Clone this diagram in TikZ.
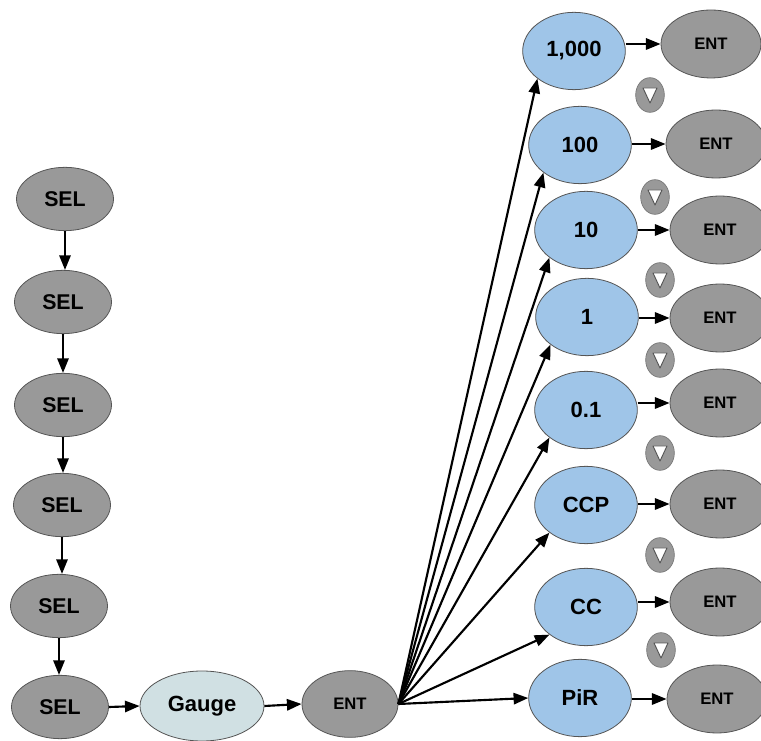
\documentclass[tikz,border=0pt]{standalone}
\usepackage{fontspec}
\setmainfont{Liberation Sans}
\usetikzlibrary{shapes.geometric,arrows.meta}
\definecolor{gfill}{HTML}{999999}
\definecolor{bfill}{HTML}{9FC5E8}
\definecolor{cfill}{HTML}{D0E0E3}
\definecolor{edgec}{HTML}{555555}
\begin{document}
\begin{tikzpicture}[x=0.75pt,y=-0.75pt,
  base/.style={ellipse,draw=edgec,line width=0.6pt,inner sep=0pt},
  sel/.style={base,fill=gfill,minimum width=72.75pt,minimum height=47.5pt,font=\bfseries\fontsize{16}{19}\selectfont},
  gauge/.style={base,fill=cfill,minimum width=93pt,minimum height=52.5pt,font=\bfseries\fontsize{16.5}{20}\selectfont},
  entb/.style={base,fill=gfill,minimum width=72pt,minimum height=50pt,font=\bfseries\fontsize{12.5}{15}\selectfont},
  entr/.style={base,fill=gfill,minimum width=75pt,minimum height=51pt,font=\bfseries\fontsize{12.5}{15}\selectfont},
  val/.style={base,fill=bfill,minimum width=77pt,minimum height=58pt,font=\bfseries\fontsize{16.5}{20}\selectfont},
  tri/.style={ellipse,draw=edgec!80,line width=0.5pt,fill=gfill,minimum width=21.5pt,minimum height=26pt,inner sep=0pt,
    path picture={\draw[fill=white,draw=edgec,line width=0.7pt,line join=round]
      ([shift={(-7,-7)}]path picture bounding box.center) --
      ([shift={(7,-7)}]path picture bounding box.center) --
      ([shift={(0,8)}]path picture bounding box.center) -- cycle;}},
  arr/.style={-{Triangle[length=11pt,width=8.5pt]},line width=1.6pt}
]
\useasboundingbox (0,0) rectangle (761,741);

% left column
\node[sel] (s1) at (65,199) {SEL};
\node[sel] (s2) at (63,302) {SEL};
\node[sel] (s3) at (63,405) {SEL};
\node[sel] (s4) at (62,505) {SEL};
\node[sel] (s5) at (59,606) {SEL};
\node[sel] (s6) at (60,707) {SEL};
\node[gauge] (g) at (202,706) {Gauge};
\node[entb] (e0) at (350,704) {ENT};

% value column
\node[val] (v1) at (574,51) {1,000};
\node[val] (v2) at (580,145) {100};
\node[val] (v3) at (586,230) {10};
\node[val] (v4) at (587,317) {1};
\node[val] (v5) at (586,410) {0.1};
\node[val] (v6) at (586,505) {CCP};
\node[val] (v7) at (586,607) {CC};
\node[val] (v8) at (580,698) {PiR};

% right ENT column
\node[entr] (r1) at (711,44) {ENT};
\node[entr] (r2) at (716,144) {ENT};
\node[entr] (r3) at (720,230) {ENT};
\node[entr] (r4) at (720,318) {ENT};
\node[entr] (r5) at (720,403) {ENT};
\node[entr] (r6) at (720,504) {ENT};
\node[entr] (r7) at (720,602) {ENT};
\node[entr] (r8) at (717,699) {ENT};

% down triangles
\node[tri] (t1) at (650,95) {};
\node[tri] (t2) at (655,197) {};
\node[tri] (t3) at (660,280) {};
\node[tri] (t4) at (660,360) {};
\node[tri] (t5) at (660,453) {};
\node[tri] (t6) at (660,555) {};
\node[tri] (t7) at (661,650) {};

% arrows left column
\draw[arr] (s1.south) -- (s1.south |- s2.north);
\draw[arr] (s2.south) -- (s2.south |- s3.north);
\draw[arr] (s3.south) -- (s3.south |- s4.north);
\draw[arr] (s4.south) -- (s4.south |- s5.north);
\draw[arr] (s5.south) -- (s5.south |- s6.north);
\draw[arr] (s6.east) -- (g.west);
\draw[arr] (g.east) -- (e0.west);

% fan
\draw[arr] (e0.east) -- (v1.south west);
\draw[arr] (e0.east) -- (v2.south west);
\draw[arr] (e0.east) -- (v3.south west);
\draw[arr] (e0.east) -- (v4.south west);
\draw[arr] (e0.east) -- (v5.south west);
\draw[arr] (e0.east) -- (v6.south west);
\draw[arr] (e0.east) -- (v7.south west);
\draw[arr] (e0.east) -- (v8.west);

% value to ENT
\draw[arr] (v1.east |- r1.west) -- (r1.west);
\draw[arr] (v2.east |- r2.west) -- (r2.west);
\draw[arr] (v3.east |- r3.west) -- (r3.west);
\draw[arr] (v4.east |- r4.west) -- (r4.west);
\draw[arr] (v5.east |- r5.west) -- (r5.west);
\draw[arr] (v6.east |- r6.west) -- (r6.west);
\draw[arr] (v7.east |- r7.west) -- (r7.west);
\draw[arr] (v8.east |- r8.west) -- (r8.west);
\end{tikzpicture}
\end{document}
